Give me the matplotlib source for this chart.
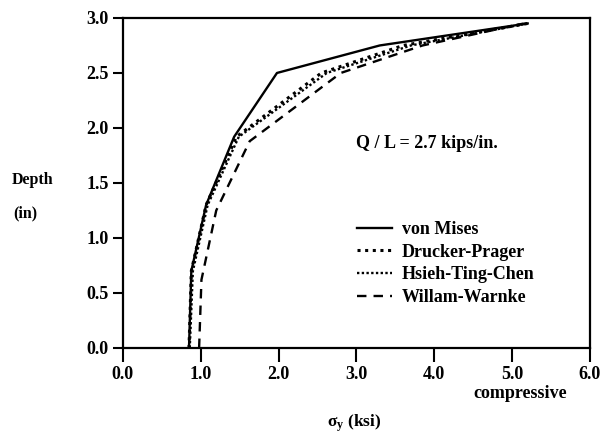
import matplotlib
matplotlib.use("Agg")
import matplotlib.pyplot as plt

# data
depth_vm = [0.0, 0.70, 1.30, 1.92, 2.50, 2.75, 2.95]
sig_vm = [0.85, 0.88, 1.07, 1.43, 1.98, 3.30, 5.20]
depth_dp = [0.0, 0.70, 1.30, 1.92, 2.50, 2.75, 2.95]
sig_dp = [0.85, 0.88, 1.07, 1.46, 2.55, 3.60, 5.20]
depth_htc = [0.0, 0.70, 1.30, 1.92, 2.50, 2.75, 2.95]
sig_htc = [0.86, 0.90, 1.09, 1.49, 2.62, 3.70, 5.20]
depth_ww = [0.0, 0.62, 1.25, 1.88, 2.50, 2.75, 2.95]
sig_ww = [0.98, 1.01, 1.20, 1.63, 2.80, 3.85, 5.15]
labels = ["von Mises", "Drucker-Prager", "Hsieh-Ting-Chen", "Willam-Warnke"]
xticks = [0, 1, 2, 3, 4, 5, 6]
yticks = [0.0, 0.5, 1.0, 1.5, 2.0, 2.5, 3.0]

plt.rcParams['font.family'] = ['Liberation Serif', 'DejaVu Serif']
plt.rcParams['font.weight'] = 'bold'
plt.rcParams['mathtext.fontset'] = 'custom'
plt.rcParams['mathtext.rm'] = 'Liberation Serif:bold'
plt.rcParams['mathtext.it'] = 'Liberation Serif:bold'
plt.rcParams['mathtext.bf'] = 'Liberation Serif:bold'

fig = plt.figure(figsize=(6.02, 4.38), dpi=100)
ax = fig.add_axes([0.204, 0.2055, 0.776, 0.7535])

ax.plot(sig_vm, depth_vm, color='black', lw=1.7, ls='-', label=labels[0])
ax.plot(sig_dp, depth_dp, color='black', lw=2.2, ls=(0, (1, 1.5)), label=labels[1])
ax.plot(sig_htc, depth_htc, color='black', lw=1.7, ls=(0, (1, 1.0)), label=labels[2])
ax.plot(sig_ww, depth_ww, color='black', lw=1.7, ls=(0, (4, 3)), label=labels[3])

ax.set_xlim(0, 6)
ax.set_ylim(0, 3)
ax.set_xticks(xticks)
ax.set_xticklabels([f"{v:.1f}" for v in xticks], fontsize=13, fontweight='bold')
ax.set_yticks(yticks)
ax.set_yticklabels([f"{v:.1f}" for v in yticks], fontsize=13, fontweight='bold')
ax.tick_params(axis='x', direction='out', length=10, width=1.5, pad=3)
ax.tick_params(axis='y', direction='out', length=7, width=1.5, pad=3)
for s in ax.spines.values():
    s.set_linewidth(1.6)

ax.text(3.0, 1.86, "Q / L = 2.7 kips/in.", fontsize=13, fontweight='bold',
        va='center', ha='left')

leg = ax.legend(loc='upper left', bbox_to_anchor=(0.501, 0.385), frameon=False,
                fontsize=13, handlelength=1.95, handletextpad=0.55, labelspacing=0.32,
                borderaxespad=0, borderpad=0)
for t in leg.get_texts():
    t.set_fontweight('bold')

fig.text(12 / 602, 1 - 180 / 438, "Depth", fontsize=11.5, fontweight='bold', ha='left', va='center')
fig.text(13 / 602, 1 - 213 / 438, "(in)", fontsize=11.5, fontweight='bold', ha='left', va='center')
fig.text(520 / 602, 1 - 393 / 438, "compressive", fontsize=13, fontweight='bold', ha='center', va='center')
fig.text(354 / 602, 1 - 423 / 438, r"$\sigma_y$ (ksi)", fontsize=12.5, fontweight='bold',
         ha='center', va='center')

fig.savefig("out.png", dpi=100)
